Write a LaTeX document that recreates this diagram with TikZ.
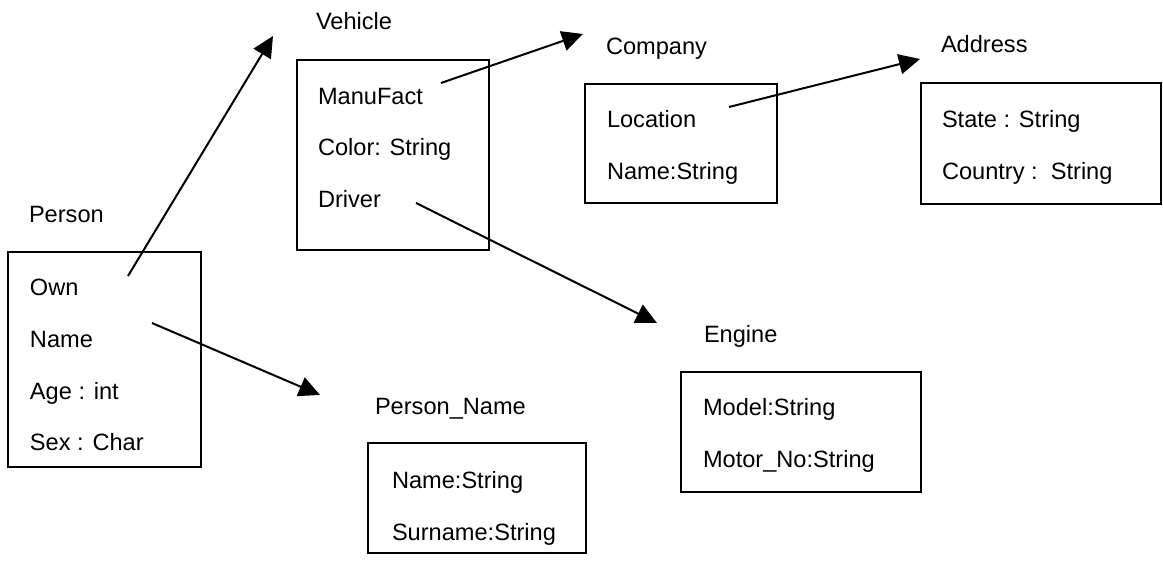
\documentclass[tikz,border=0pt]{standalone}
\usepackage{fontspec}
\setmainfont{Liberation Sans}
\usetikzlibrary{arrows.meta}

\begin{document}
\begin{tikzpicture}[x=0.5pt, y=-0.5pt, line width=1pt,
        txt/.style={anchor=base west, inner sep=0pt, font=\fontsize{11.8}{14}\selectfont},
        arr/.style={-{Triangle[length=10.5pt, width=10pt]}}]
        \useasboundingbox (0,0) rectangle (1163,565);

        % Person 类
        \draw (8,252) rectangle (201,467);
        \node[txt] (person) at (28,223) {Person};
        \node[txt] (own) at (29,296) {Own};
        \node[txt] (pname) at (29,348) {Name};
        \node[txt] (age) at (29,400) {Age : int};
        \node[txt] (sex) at (29,451) {Sex : Char};

        % Vehicle 类
        \draw (297,60) rectangle (489,250);
        \node[txt] (vehicle) at (315,30) {Vehicle};
        \node[txt] (manu) at (317,105) {ManuFact};
        \node[txt] (color) at (317,156) {Color: String};
        \node[txt] (driver) at (317,208) {Driver};

        % Company 类
        \draw (585,84) rectangle (777,203);
        \node[txt] (company) at (605,55) {Company};
        \node[txt] (location) at (606,128) {Location};
        \node[txt] (cname) at (606,180) {Name:String};

        % Address 类
        \draw (921,83) rectangle (1161,204);
        \node[txt] (address) at (940,53) {Address};
        \node[txt] (state) at (941,128) {State : String};
        \node[txt] (country) at (941,180) {Country :\ \ String};

        % Engine 类
        \draw (681,372) rectangle (921,492);
        \node[txt] (engine) at (703,343) {Engine};
        \node[txt] (model) at (702,416) {Model:String};
        \node[txt] (motor) at (702,468) {Motor\_No:String};

        % Person_Name 类
        \draw (368,443) rectangle (586,553);
        \node[txt] (personname) at (374,415) {Person\_Name};
        \node[txt] (nname) at (391,489) {Name:String};
        \node[txt] (surname) at (391,541) {Surname:String};

        % 关联箭头的起点和终点
        \coordinate (ownTail) at (128,276);
        \coordinate (vehTip) at (273,36);
        \coordinate (nameTail) at (152,323);
        \coordinate (pnTip) at (320,395);
        \coordinate (manuTail) at (441,83);
        \coordinate (compTip) at (583,34);
        \coordinate (drvTail) at (416,203);
        \coordinate (engTip) at (657,323);
        \coordinate (locTail) at (729,107);
        \coordinate (addrTip) at (920,59);

        % 关联
        \draw[arr] (ownTail) -- (vehTip);
        \draw[arr] (nameTail) -- (pnTip);
        \draw[arr] (manuTail) -- (compTip);
        \draw[arr] (drvTail) -- (engTip);
        \draw[arr] (locTail) -- (addrTip);
    \end{tikzpicture}
\end{document}
